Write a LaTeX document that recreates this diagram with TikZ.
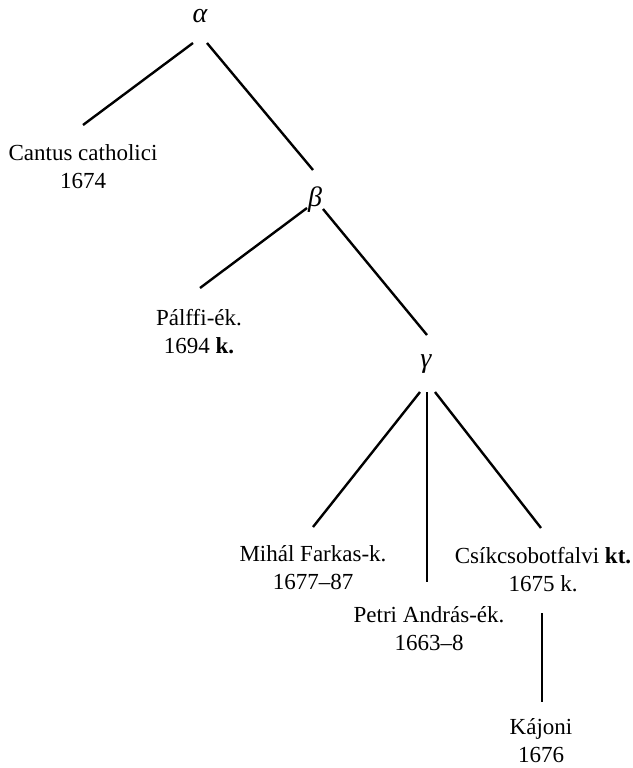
\documentclass[tikz,border=0pt]{standalone}
\usepackage{fontspec}
\setmainfont{Liberation Serif}
\begin{document}
\begin{tikzpicture}[x=1pt,y=-1pt,
  lbl/.style={align=center,anchor=north,inner sep=0pt,font=\fontsize{23}{28}\selectfont},
  greek/.style={inner sep=0pt,anchor=center,font=\fontsize{28}{30}\selectfont\itshape},
  edge/.style={line width=2.4pt,line cap=butt}]
\useasboundingbox (0,0) rectangle (632,768);
\node[greek] (alpha) at (200,16) {α};
\node[greek] (beta) at (315,200) {β};
\node[greek] (gamma) at (426,364) {γ};
\node[lbl] (cantus) at (83,144) {Cantus catholici\\1674};
\node[lbl] (palffi) at (199,309) {Pálffi-ék.\\1694 \textbf{k.}};
\node[lbl] (mihal) at (313,545) {Mihál Farkas-k.\\1677–87};
\node[lbl] (petri) at (429,606) {Petri András-ék.\\1663–8};
\node[lbl] (csik) at (543,547) {Csíkcsobotfalvi \textbf{kt.}\\1675 k.};
\node[lbl] (kajoni) at (541,718) {Kájoni\\1676};
\draw[edge] ([shift={(-7,27)}]alpha.center) -- ([shift={(0,-19)}]cantus.north);
\draw[edge] ([shift={(7,27)}]alpha.center) -- ([shift={(-2,-30)}]beta.center);
\draw[edge] ([shift={(-8,8)}]beta.center) -- ([shift={(1,-21)}]palffi.north);
\draw[edge] ([shift={(8,9)}]beta.center) -- ([shift={(1,-29)}]gamma.center);
\draw[edge] ([shift={(-6,28)}]gamma.center) -- ([shift={(0,-18)}]mihal.north);
\draw[edge,line width=2pt] ([shift={(1,28)}]gamma.center) -- ([shift={(-2,-24)}]petri.north);
\draw[edge] ([shift={(9,28)}]gamma.center) -- ([shift={(-2,-19)}]csik.north);
\draw[edge] ([shift={(-1,66)}]csik.north) -- ([shift={(1,-16)}]kajoni.north);
\end{tikzpicture}
\end{document}
